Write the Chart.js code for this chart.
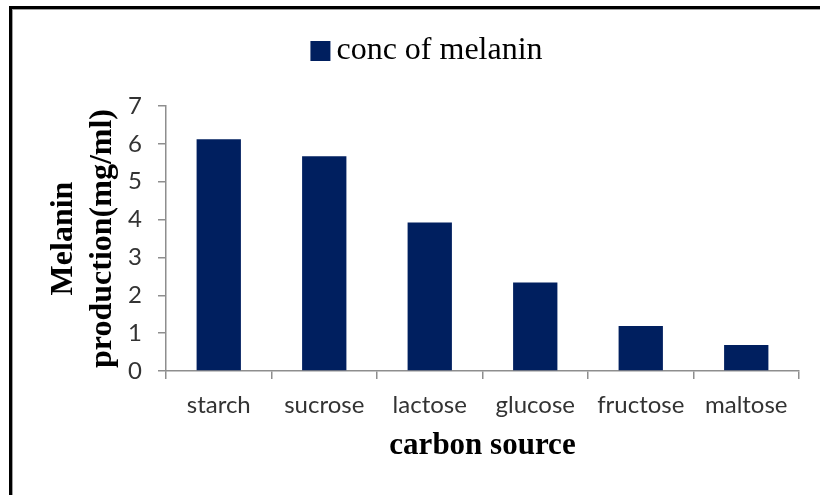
<!DOCTYPE html>
<html>
<head>
<meta charset="utf-8">
<script src="https://cdn.jsdelivr.net/npm/chart.js@4"></script>
<style>
    html, body { margin: 0; padding: 0; background: #ffffff; overflow: hidden; }
    .moldura {
        position: absolute;
        left: 9px;
        top: 6px;
        width: 811px;
        height: 489px;
        border-left: 3px solid #000000;
        border-top: 3px solid #000000;
    }
    .interno {
        width: 810px;
        height: 488px;
        border-left: 1px solid #a0a0a0;
        border-top: 1px solid #a0a0a0;
    }
    .tamanho { position: relative; width: 807px; height: 485px; }
</style>
</head>
<body>
<div class="moldura">
    <div class="interno">
        <div class="tamanho"><canvas id="dashboard"></canvas></div>
    </div>
</div>
<script>
let fontes = ['starch', 'sucrose', 'lactose', 'glucose', 'fructose', 'maltose'];
let melanina = [6.12, 5.67, 3.92, 2.34, 1.19, 0.69];
let ticksY = [0, 1, 2, 3, 4, 5, 6, 7];
let nomeSerie = 'conc of melanin';
let tituloY = ['Melanin', 'production(mg/ml)'];
let tituloX = 'carbon source';

let corBarra = '#001f5f';
let corEixo = '#8e8e8e';

// legenda desenhada na mao (quadrado + texto colado, como no original)
const legendaPlugin = {
    id: 'legendaTopo',
    afterDraw(chart) {
        const ctx = chart.ctx;
        const ds = chart.data.datasets[0];
        ctx.save();
        ctx.font = '32px "Liberation Serif"';
        let largTexto = ctx.measureText(ds.label).width;
        let total = 20 + 6 + largTexto;
        let x = chart.width / 2 + 10 - total / 2;
        let y = 41;
        ctx.fillStyle = ds.backgroundColor;
        ctx.fillRect(x, y - 10, 20, 20);
        ctx.fillStyle = '#000000';
        ctx.textBaseline = 'middle';
        ctx.textAlign = 'left';
        ctx.fillText(ds.label, x + 26, y);
        ctx.restore();
    }
};

const config = {
    type: 'bar',
    data: {
        labels: fontes,
        datasets: [{
            label: nomeSerie,
            data: melanina,
            backgroundColor: corBarra,
            borderWidth: 0,
            barPercentage: 1,
            categoryPercentage: 0.42
        }]
    },
    options: {
        responsive: true,
        maintainAspectRatio: false,
        animation: false,
        layout: {
            padding: { top: 96, right: 21, bottom: 0, left: 0 }
        },
        plugins: {
            legend: { display: false },
            tooltip: { enabled: false }
        },
        scales: {
            x: {
                afterFit: function (escala) { escala.height = 124; },
                grid: {
                    display: true,
                    drawOnChartArea: false,
                    drawTicks: true,
                    tickLength: 8,
                    color: corEixo,
                    lineWidth: 1.5
                },
                border: { display: true, color: corEixo, width: 1.5 },
                ticks: {
                    color: '#333333',
                    padding: 12,
                    font: { family: 'Lato', size: 24 }
                },
                title: {
                    display: true,
                    text: tituloX,
                    color: '#000000',
                    font: { family: '"Liberation Serif"', size: 31, weight: 'bold', lineHeight: 1.2 },
                    padding: { top: 0, bottom: 30 }
                }
            },
            y: {
                min: 0,
                max: 7,
                afterFit: function (escala) { escala.width = 153; },
                afterBuildTicks: function (escala) {
                    escala.ticks = ticksY.map(function (v) { return { value: v }; });
                },
                grid: {
                    display: true,
                    drawOnChartArea: false,
                    drawTicks: true,
                    tickLength: 8,
                    color: corEixo,
                    lineWidth: 1.5
                },
                border: { display: true, color: corEixo, width: 1.5 },
                ticks: {
                    stepSize: 1,
                    color: '#333333',
                    padding: 16,
                    font: { family: 'Lato', size: 24 }
                },
                title: {
                    display: true,
                    text: tituloY,
                    color: '#000000',
                    font: { family: '"Liberation Serif"', size: 32, weight: 'bold', lineHeight: 1.2 },
                    padding: { top: 32, bottom: 0 }
                }
            }
        }
    },
    plugins: [legendaPlugin]
};

let grafico = new Chart(document.getElementById('dashboard'), config);
</script>
</body>
</html>
